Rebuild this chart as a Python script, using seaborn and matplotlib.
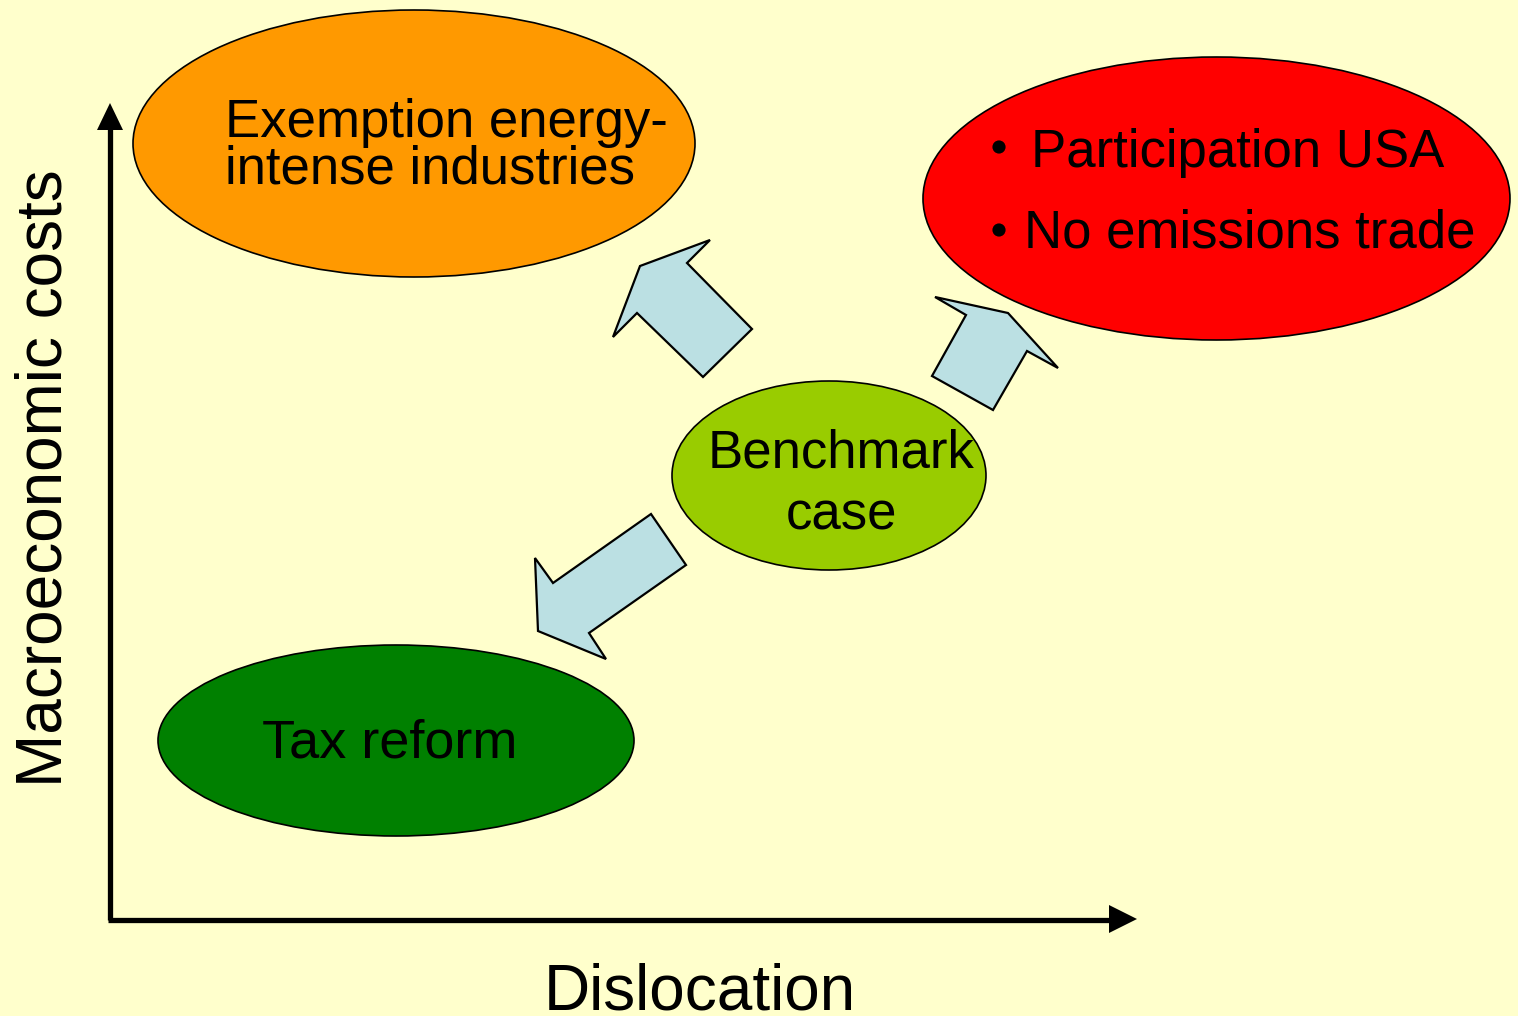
import matplotlib
matplotlib.use("Agg")
import matplotlib.pyplot as plt
from matplotlib.patches import Ellipse, Polygon
import seaborn as sns

sns.set_theme(style="white")
plt.rcParams['font.family'] = ['Liberation Sans', 'DejaVu Sans']

# ---- data ----
bg_color = "#FFFFCC"

ellipse_names = ["Exemption", "Participation", "Benchmark", "Tax reform"]
ellipse_cx = [414, 1216.5, 829, 396]
ellipse_cy = [143.5, 198.5, 475.5, 740.5]
ellipse_w = [562, 587, 314, 476]
ellipse_h = [267, 283, 189, 191]
ellipse_colors = ["#FF9900", "#FF0000", "#99CC00", "#008000"]

# text lines: (x, baseline y, text, ha)
text_x = [225, 225, 1031, 1024, 841, 841, 390]
text_y = [137, 184, 167, 247, 467, 530, 757]
text_s = ["Exemption energy-", "intense industries", "Participation USA",
          "No emissions trade", "Benchmark", "case", "Tax reform"]
text_ha = ["left", "left", "left", "left", "center", "center", "center"]
text_size = [38, 38, 38, 38, 38, 38, 39]
bullet_x = [999, 999]
bullet_y = [147, 230]

arrow_up_left_x = [710, 640, 613, 637, 703, 752, 687]
arrow_up_left_y = [240, 266, 337, 313, 377, 329, 263]
arrow_up_right_x = [935, 1008, 1058, 1027, 993, 932, 966]
arrow_up_right_y = [297, 313, 368, 351, 410, 376, 315]
arrow_down_left_x = [651, 686, 589, 606, 538, 535, 553]
arrow_down_left_y = [514, 565, 633, 659, 631, 558, 583]
arrow_color = "#BBE0E3"

x_label = "Dislocation"
y_label = "Macroeconomic costs"

# ---- figure ----
W, H = 1518, 1016
fig = plt.figure(figsize=(W / 100, H / 100), dpi=100)
fig.patch.set_facecolor(bg_color)
ax = fig.add_axes([0, 0, 1, 1])
ax.set_facecolor(bg_color)
ax.set_xlim(0, W)
ax.set_ylim(H, 0)
ax.axis("off")

for cx, cy, w, h, c in zip(ellipse_cx, ellipse_cy, ellipse_w, ellipse_h, ellipse_colors):
    ax.add_patch(Ellipse((cx, cy), w, h, facecolor=c, edgecolor="black", lw=1.2, zorder=2))

for xs, ys in [(arrow_up_left_x, arrow_up_left_y),
               (arrow_up_right_x, arrow_up_right_y),
               (arrow_down_left_x, arrow_down_left_y)]:
    ax.add_patch(Polygon(list(zip(xs, ys)), closed=True, facecolor=arrow_color,
                         edgecolor="black", lw=1.6, joinstyle="miter", zorder=3))

for x, y, s, ha, fs in zip(text_x, text_y, text_s, text_ha, text_size):
    ax.text(x, y, s, ha=ha, va="baseline", fontsize=fs, color="black", zorder=4)

sns.scatterplot(x=bullet_x, y=bullet_y, ax=ax, color="black", s=90, zorder=4, edgecolor="none")

# axes arrows
ax.plot([110, 110], [920, 128], color="black", lw=3.8, solid_capstyle="butt", zorder=1)
ax.plot([108, 1112], [919.5, 919.5], color="black", lw=3.8, solid_capstyle="butt", zorder=1)
ax.add_patch(Polygon([(110, 103), (97, 130), (123, 130)], closed=True, facecolor="black", edgecolor="none"))
ax.add_patch(Polygon([(1137, 919), (1109, 905), (1109, 933)], closed=True, facecolor="black", edgecolor="none"))

ax.text(700, 1009, x_label, ha="center", va="baseline", fontsize=46, color="black")
ax.text(62, 478, y_label, ha="center", va="baseline", rotation=90, fontsize=46,
        color="black", rotation_mode="anchor")

fig.savefig("out.png", dpi=100, facecolor=bg_color)
